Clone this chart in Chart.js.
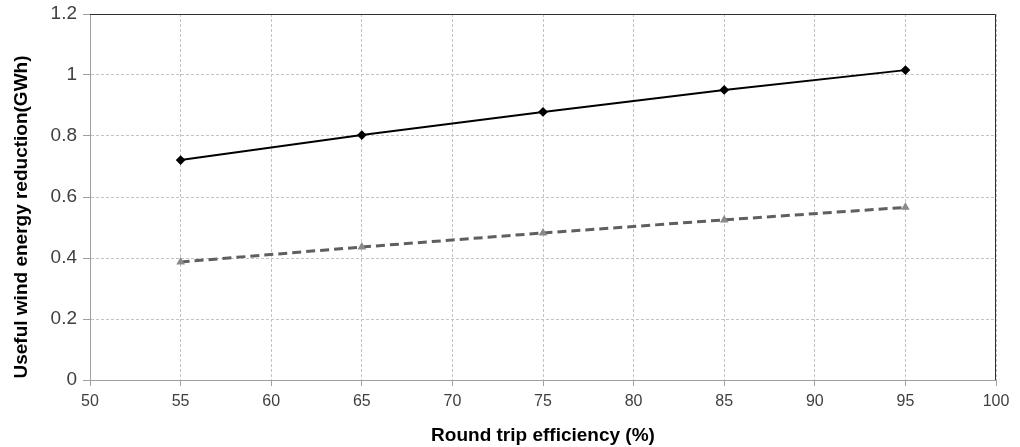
<!DOCTYPE html>
<html>
<head>
<meta charset="utf-8">
<script src="https://cdn.jsdelivr.net/npm/chart.js@4/dist/chart.umd.min.js"></script>
<style>
  html, body { margin: 0; padding: 0; background: #fff; }
  #wrap { width: 1020px; height: 447px; position: relative; }
</style>
</head>
<body>
<div id="wrap"><canvas id="graph"></canvas></div>
<script>
const efficiency = [55, 65, 75, 85, 95];
const upperSeries = [0.721, 0.803, 0.879, 0.951, 1.016];
const lowerSeries = [0.387, 0.436, 0.482, 0.525, 0.566];
const xTicks = [50, 55, 60, 65, 70, 75, 80, 85, 90, 95, 100];
const yTicks = [0, 0.2, 0.4, 0.6, 0.8, 1, 1.2];
const yTitle = "Useful wind energy reduction(GWh)";
const xTitle = "Round trip efficiency (%)";

const font = "'Liberation Sans', Arial, sans-serif";

// plot frame top/right edges + y title (sits a bit below the axis centre in the original)
const frame = {
  id: "frame",
  afterDraw(chart) {
    const { ctx, chartArea: a } = chart;
    ctx.save();
    ctx.strokeStyle = "#303030";
    ctx.lineWidth = 1;
    ctx.beginPath();
    ctx.moveTo(a.left, a.top + 0.5);
    ctx.lineTo(a.right - 0.5, a.top + 0.5);
    ctx.lineTo(a.right - 0.5, a.bottom);
    ctx.stroke();

    ctx.translate(22, (a.top + a.bottom) / 2 + 20);
    ctx.rotate(-Math.PI / 2);
    ctx.fillStyle = "#000";
    ctx.font = "bold 19px " + font;
    ctx.textAlign = "center";
    ctx.textBaseline = "middle";
    ctx.fillText(yTitle, 0, 0);
    ctx.restore();
  }
};

new Chart(document.getElementById("graph"), {
  type: "scatter",
  data: {
    datasets: [
      {
        data: efficiency.map((x, i) => ({ x, y: upperSeries[i] })),
        showLine: true,
        borderColor: "#000",
        borderWidth: 2,
        pointStyle: "rectRot",
        pointRadius: 3.5,
        pointBackgroundColor: "#000",
        pointBorderColor: "#000"
      },
      {
        data: efficiency.map((x, i) => ({ x, y: lowerSeries[i] })),
        showLine: true,
        borderColor: "#5f5f5f",
        borderWidth: 3,
        borderDash: [9, 5],
        pointStyle: "triangle",
        pointRadius: 5,
        pointBackgroundColor: "#8a8a8a",
        pointBorderColor: "#8a8a8a",
        pointBorderWidth: 0
      }
    ]
  },
  options: {
    responsive: true,
    maintainAspectRatio: false,
    animation: false,
    layout: { padding: { left: 0, top: 14, right: 24, bottom: 0 } },
    plugins: { legend: { display: false }, tooltip: { enabled: false } },
    scales: {
      x: {
        type: "linear",
        min: 50, max: 100,
        afterBuildTicks: s => { s.ticks = xTicks.map(v => ({ value: v })); },
        afterFit: s => { s.height = 67; s.paddingLeft = 0; s.paddingRight = 0; },
        ticks: { color: "#404040", font: { family: font, size: 16 }, padding: 6, callback: v => String(v) },
        grid: { color: "#c4c4c4", tickLength: 6, tickColor: "#a0a0a0" },
        border: { color: "#a0a0a0", dash: [3, 2] },
        title: {
          display: true, text: xTitle, color: "#000",
          font: { family: font, size: 19, weight: "bold" }, padding: { top: 2, bottom: 0 }
        }
      },
      y: {
        min: 0, max: 1.2,
        afterBuildTicks: s => { s.ticks = yTicks.map(v => ({ value: v })); },
        afterFit: s => { s.width = 90; s.paddingTop = 0; s.paddingBottom = 0; },
        ticks: { color: "#404040", font: { family: font, size: 19 }, padding: 6, callback: v => String(v) },
        grid: { color: "#c4c4c4", tickLength: 7, tickColor: "#a0a0a0" },
        border: { color: "#a0a0a0", dash: [3, 2] },
        title: { display: false }
      }
    }
  },
  plugins: [frame]
});
</script>
</body>
</html>
